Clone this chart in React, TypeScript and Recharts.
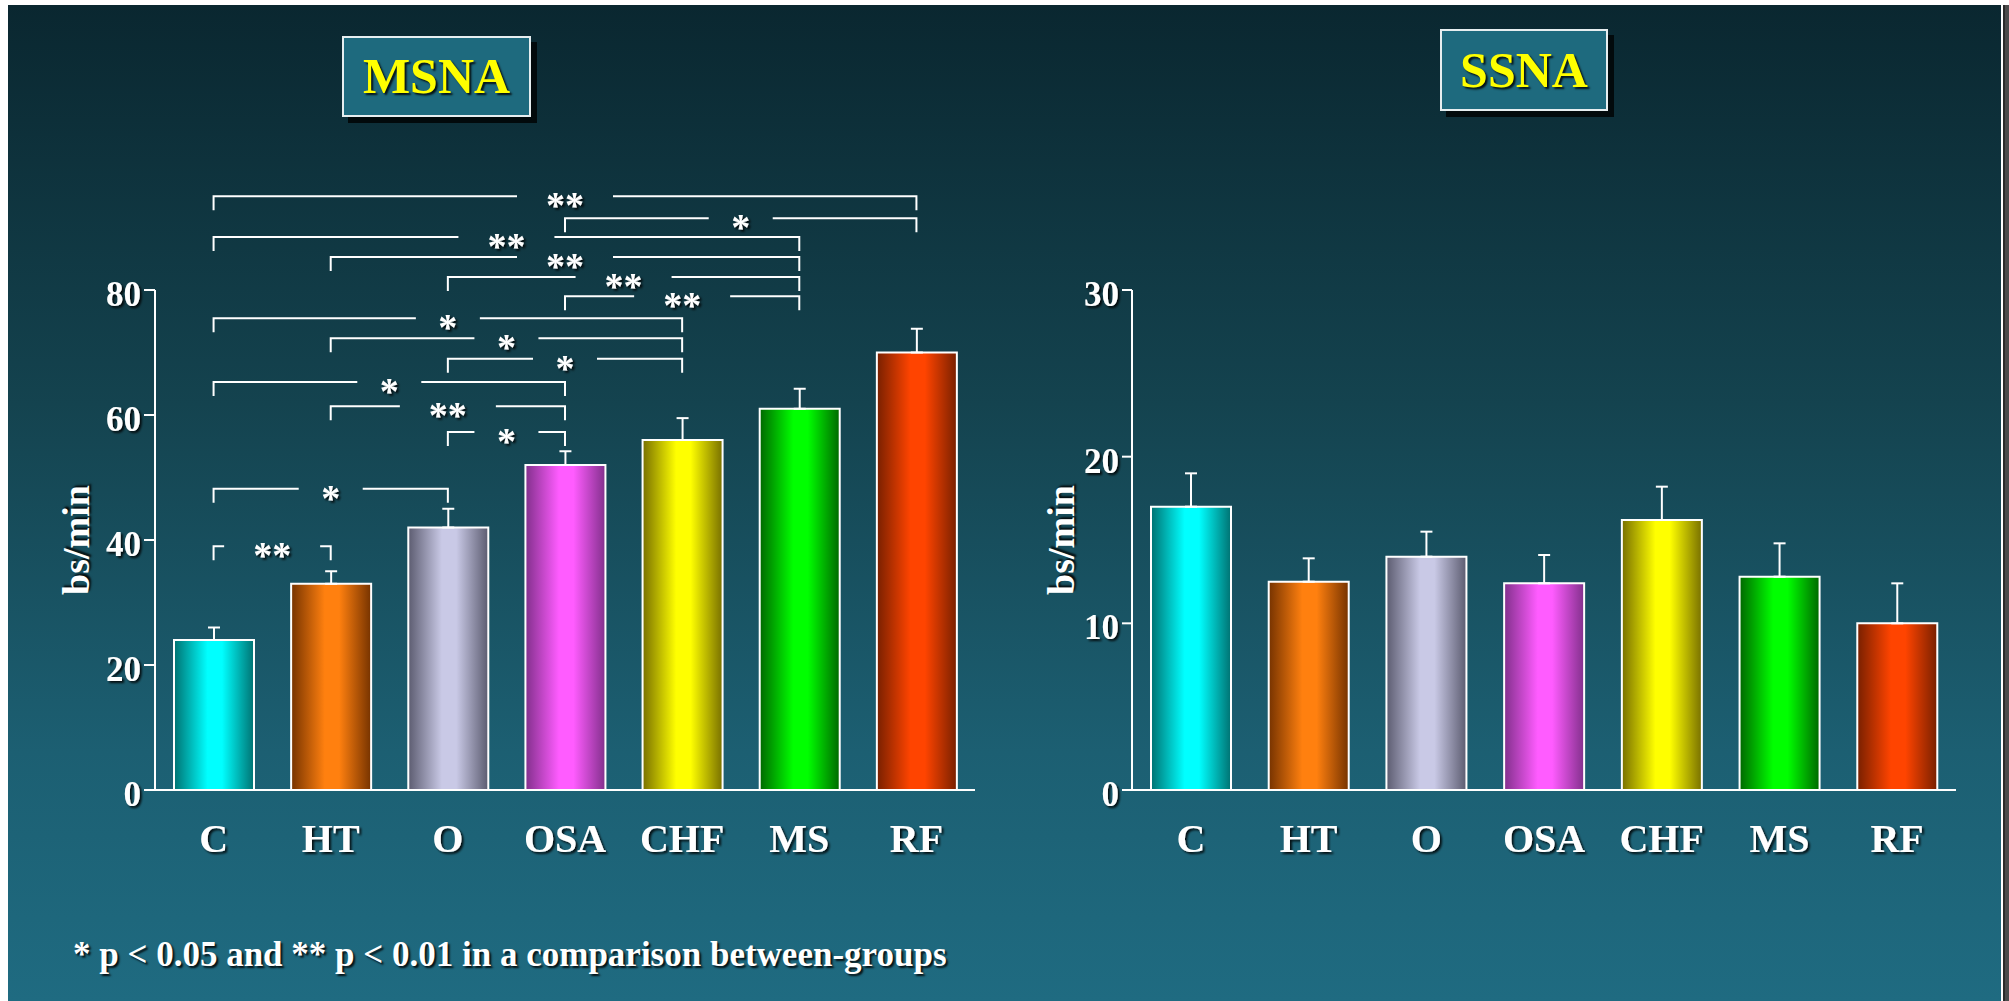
import React from 'react';
import { BarChart, Bar, XAxis, YAxis, Cell, ErrorBar, ReferenceLine } from 'recharts';

const groups = ['C', 'HT', 'O', 'OSA', 'CHF', 'MS', 'RF'];

// MSNA (bursts/min): mean and SEM per group
const msnaMean = [24, 33, 42, 52, 56, 61, 70];
const msnaSem = [2, 2, 3, 2.2, 3.5, 3.2, 3.8];
const msnaTicks = [0, 20, 40, 60, 80];

// SSNA (bursts/min): mean and SEM per group
const ssnaMean = [17, 12.5, 14, 12.4, 16.2, 12.8, 10];
const ssnaSem = [2, 1.4, 1.5, 1.7, 2, 2, 2.4];
const ssnaTicks = [0, 10, 20, 30];

// between-group comparisons drawn above the MSNA bars
const msnaBrackets = [
  { from: 'C', to: 'RF', level: 95, mark: '**' },
  { from: 'OSA', to: 'RF', level: 91.5, mark: '*' },
  { from: 'C', to: 'MS', level: 88.5, mark: '**' },
  { from: 'HT', to: 'MS', level: 85.3, mark: '**' },
  { from: 'O', to: 'MS', level: 82.1, mark: '**' },
  { from: 'OSA', to: 'MS', level: 79, mark: '**' },
  { from: 'C', to: 'CHF', level: 75.5, mark: '*' },
  { from: 'HT', to: 'CHF', level: 72.3, mark: '*' },
  { from: 'O', to: 'CHF', level: 69, mark: '*' },
  { from: 'C', to: 'OSA', level: 65.3, mark: '*' },
  { from: 'HT', to: 'OSA', level: 61.4, mark: '**' },
  { from: 'O', to: 'OSA', level: 57.3, mark: '*' },
  { from: 'C', to: 'O', level: 48.2, mark: '*' },
  { from: 'C', to: 'HT', level: 39, mark: '**' },
];

// [centre colour, edge colour] for the shaded bars
const barColors = [
  ['#00ffff', '#007272'],
  ['#ff800f', '#763300'],
  ['#c9c9e6', '#5c5c70'],
  ['#ff5cff', '#82308c'],
  ['#ffff00', '#787000'],
  ['#00ff00', '#006800'],
  ['#ff4400', '#782000'],
];

const FONT = "'Liberation Serif', 'Times New Roman', serif";
const SHADOW = '2px 2px 2px rgba(0,0,0,0.85)';

type Row = { group: string; value: number; err: [number, number] };

const toRows = (mean: number[], sem: number[]): Row[] =>
  groups.map((g, i) => ({ group: g, value: mean[i], err: [0, sem[i]] }));

const Bracket = ({ x1, y1, x2, mark, filter }: any) => {
  const left = Math.min(x1, x2);
  const right = Math.max(x1, x2);
  const mid = (left + right) / 2;
  const half = mark.length > 1 ? 48 : 32;
  const leg = 14;
  return (
    <g>
      <polyline
        points={`${mid - half},${y1} ${left},${y1} ${left},${y1 + leg}`}
        fill="none"
        stroke="#fff"
        strokeWidth={2}
      />
      <polyline
        points={`${mid + half},${y1} ${right},${y1} ${right},${y1 + leg}`}
        fill="none"
        stroke="#fff"
        strokeWidth={2}
      />
      <text
        x={mid}
        y={y1 + 22}
        textAnchor="middle"
        fill="#fff"
        fontFamily={FONT}
        fontWeight="bold"
        fontSize={38}
        filter={filter}
      >
        {mark}
      </text>
    </g>
  );
};

interface PanelProps {
  prefix: string;
  rows: Row[];
  ticks: number[];
  width: number;
  left: number;
  right: number;
  tickLen: number;
  brackets?: typeof msnaBrackets;
}

const Panel = ({ prefix, rows, ticks, width, left, right, tickLen, brackets = [] }: PanelProps) => {
  const shadow = `url(#${prefix}-shadow)`;
  return (
    <BarChart
      width={width}
      height={1001}
      data={rows}
      margin={{ top: 290, right, bottom: 151, left }}
    >
      <defs>
        <filter id={`${prefix}-shadow`} x="-30%" y="-30%" width="160%" height="160%">
          <feDropShadow dx="2" dy="2" stdDeviation="1" floodColor="#000" floodOpacity="0.85" />
        </filter>
        {barColors.map(([hi, lo], i) => (
          <linearGradient key={i} id={`${prefix}-g${i}`} x1="0" y1="0" x2="1" y2="0">
            <stop offset="0%" stopColor={lo} />
            <stop offset="42%" stopColor={hi} />
            <stop offset="60%" stopColor={hi} />
            <stop offset="100%" stopColor={lo} />
          </linearGradient>
        ))}
      </defs>
      <XAxis
        dataKey="group"
        height={60}
        interval={0}
        axisLine={{ stroke: '#fff', strokeWidth: 2 }}
        tickLine={false}
        tickSize={0}
        tickMargin={0}
        tick={(p: any) => (
          <text
            x={p.x}
            y={p.y + 62}
            textAnchor="middle"
            fill="#fff"
            fontFamily={FONT}
            fontWeight="bold"
            fontSize={40}
            filter={shadow}
          >
            {p.payload.value}
          </text>
        )}
      />
      <YAxis
        width={60}
        domain={[0, ticks[ticks.length - 1]]}
        ticks={ticks}
        interval={0}
        axisLine={{ stroke: '#fff', strokeWidth: 2 }}
        tickLine={{ stroke: '#fff', strokeWidth: 2 }}
        tickSize={tickLen}
        tickMargin={3}
        tick={(p: any) => (
          <text
            x={p.x}
            y={p.y + 16}
            textAnchor="end"
            fill="#fff"
            fontFamily={FONT}
            fontWeight="bold"
            fontSize={35}
            filter={shadow}
          >
            {p.payload.value}
          </text>
        )}
      />
      <Bar dataKey="value" barSize={80} stroke="#fff" strokeWidth={2} isAnimationActive={false}>
        {rows.map((_, i) => (
          <Cell key={i} fill={`url(#${prefix}-g${i})`} />
        ))}
        <ErrorBar dataKey="err" direction="y" width={6} stroke="#fff" strokeWidth={2} isAnimationActive={false} />
      </Bar>
      {brackets.map((b, i) => (
        <ReferenceLine
          key={i}
          segment={[
            { x: b.from, y: b.level },
            { x: b.to, y: b.level },
          ]}
          ifOverflow="visible"
          shape={(p: any) => <Bracket {...p} mark={b.mark} filter={shadow} />}
        />
      ))}
    </BarChart>
  );
};

const TitleBox = ({ text, left, top, width, height }: any) => (
  <div
    style={{
      position: 'absolute',
      left,
      top,
      width,
      height,
      boxSizing: 'border-box',
      border: '2px solid #e6eef0',
      background: '#1e6a7e',
      boxShadow: '6px 6px 0 #020a0c',
      color: '#ffff00',
      fontSize: 50,
      fontWeight: 'bold',
      lineHeight: `${height - 4}px`,
      textAlign: 'center',
      textShadow: SHADOW,
    }}
  >
    {text}
  </div>
);

const AxisTitle = ({ cx }: { cx: number }) => (
  <div
    style={{
      position: 'absolute',
      left: cx,
      top: 540,
      transform: 'translate(-50%, -50%) rotate(-90deg)',
      color: '#fff',
      fontSize: 38,
      fontWeight: 'bold',
      lineHeight: '42px',
      whiteSpace: 'nowrap',
      textShadow: SHADOW,
    }}
  >
    bs/min
  </div>
);

export default function App() {
  return (
    <div
      style={{
        position: 'absolute',
        left: 0,
        top: 0,
        width: 2009,
        height: 1001,
        overflow: 'hidden',
        background: '#fff',
        fontFamily: FONT,
      }}
    >
      <div
        style={{
          position: 'absolute',
          left: 8,
          top: 5,
          width: 1993,
          height: 996,
          background: 'linear-gradient(to bottom, #0a2730 0%, #14434f 40%, #1c5f72 75%, #1f6b81 100%)',
        }}
      />
      <div style={{ position: 'absolute', left: 2003, top: 5, width: 2, height: 996, background: '#2a2a2a' }} />
      <div style={{ position: 'absolute', left: 2005, top: 5, width: 4, height: 996, background: '#4c4c4c' }} />

      <div style={{ position: 'absolute', left: 0, top: 0 }}>
        <Panel
          prefix="msna"
          rows={toRows(msnaMean, msnaSem)}
          ticks={msnaTicks}
          width={1000}
          left={95}
          right={25}
          tickLen={11}
          brackets={msnaBrackets}
        />
      </div>
      <div style={{ position: 'absolute', left: 1000, top: 0 }}>
        <Panel
          prefix="ssna"
          rows={toRows(ssnaMean, ssnaSem)}
          ticks={ssnaTicks}
          width={1009}
          left={72}
          right={53}
          tickLen={10}
        />
      </div>

      <TitleBox text="MSNA" left={342} top={36} width={189} height={81} />
      <TitleBox text="SSNA" left={1440} top={29} width={168} height={82} />

      <AxisTitle cx={76} />
      <AxisTitle cx={1061} />

      <div
        style={{
          position: 'absolute',
          left: 73,
          top: 937,
          color: '#fff',
          fontSize: 35,
          fontWeight: 'bold',
          lineHeight: '35px',
          whiteSpace: 'nowrap',
          textShadow: SHADOW,
        }}
      >
        * p &lt; 0.05 and ** p &lt; 0.01 in a comparison between-groups
      </div>
    </div>
  );
}
